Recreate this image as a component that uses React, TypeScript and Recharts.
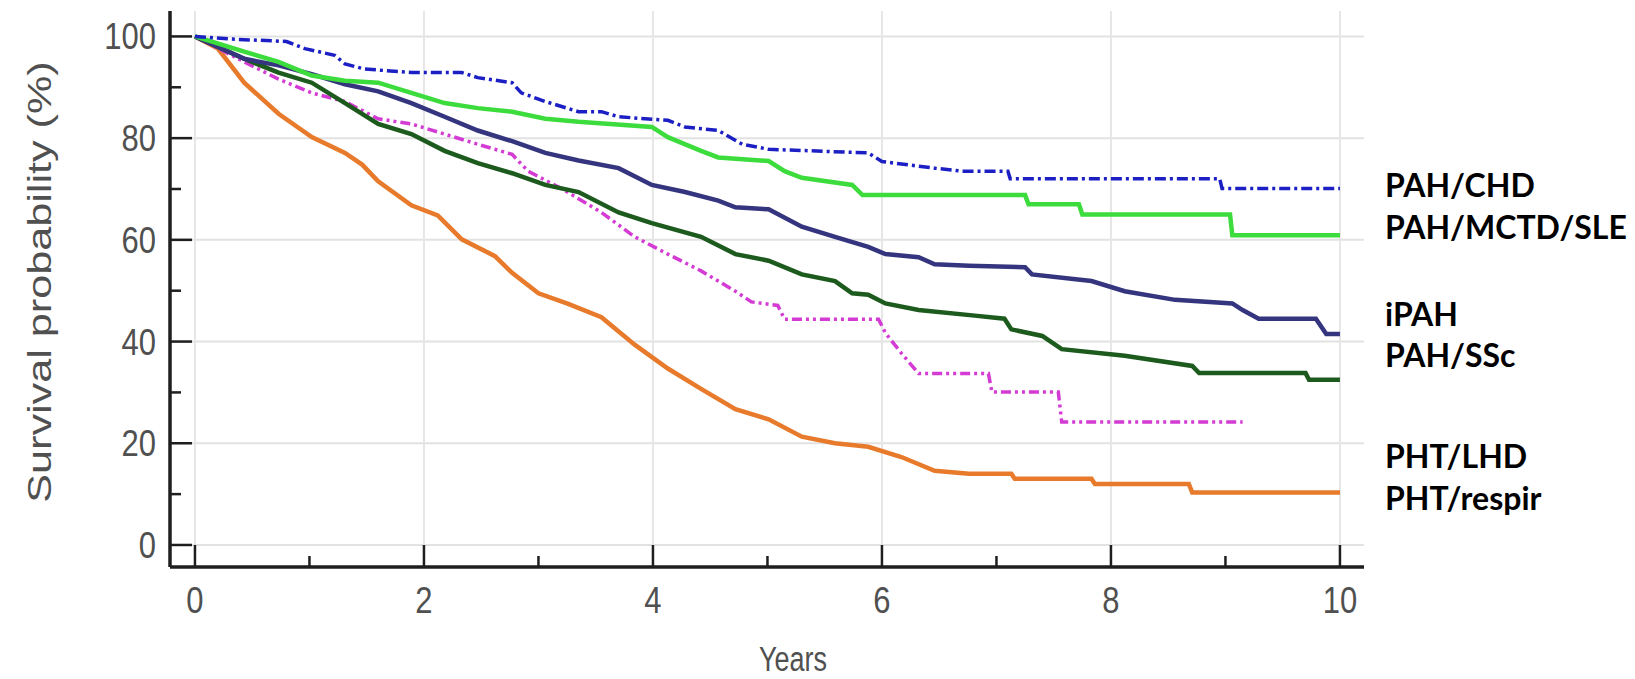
import React from 'react';
import { LineChart, Line, XAxis, YAxis, ReferenceLine } from 'recharts';

// ---- data (years, survival %) ----
const chdYears = [0, 0.3, 0.8, 0.96, 1.22, 1.31, 1.48, 1.89, 2.33, 2.47, 2.77, 2.85, 3.06, 3.35, 3.55, 3.7, 4.13, 4.28, 4.57, 4.78, 5.01, 5.88, 6.0, 6.46, 6.7, 7.1, 7.12, 8.95, 8.97, 10.0];
const chdSurv = [100, 99.5, 99, 97.6, 96.3, 94.6, 93.6, 92.9, 92.9, 91.9, 90.9, 88.9, 87.2, 85.2, 85.2, 84.2, 83.5, 82.2, 81.5, 78.8, 77.8, 77.1, 75.4, 74.1, 73.5, 73.5, 72.0, 72.0, 70.1, 70.1];

const sleYears = [0, 0.43, 0.73, 1.02, 1.31, 1.6, 1.89, 2.18, 2.47, 2.77, 3.06, 3.35, 3.99, 4.13, 4.42, 4.57, 5.01, 5.15, 5.3, 5.74, 5.83, 7.25, 7.28, 7.72, 7.75, 9.04, 9.06, 10.0];
const sleSurv = [100, 97, 95, 92.3, 91.3, 90.9, 88.9, 86.9, 85.9, 85.2, 83.8, 83.2, 82.2, 80.2, 77.5, 76.2, 75.5, 73.5, 72.2, 70.8, 68.8, 68.8, 67.0, 67.0, 65.0, 65.0, 60.9, 60.9];

const ipahYears = [0, 0.43, 0.73, 1.02, 1.31, 1.6, 1.89, 2.18, 2.47, 2.77, 3.06, 3.35, 3.7, 3.99, 4.28, 4.57, 4.72, 5.01, 5.3, 5.59, 5.88, 6.03, 6.32, 6.46, 6.76, 7.25, 7.31, 7.83, 8.12, 8.56, 9.06, 9.15, 9.29, 9.79, 9.88, 10.0];
const ipahSurv = [100, 95.6, 94.3, 92.6, 90.6, 89.2, 86.9, 84.2, 81.5, 79.4, 77.1, 75.6, 74.1, 70.8, 69.4, 67.7, 66.4, 66.0, 62.6, 60.6, 58.6, 57.2, 56.6, 55.2, 54.9, 54.6, 53.2, 51.9, 49.9, 48.2, 47.5, 46.2, 44.5, 44.5, 41.5, 41.5];

const sscYears = [0, 0.43, 0.73, 1.02, 1.31, 1.6, 1.89, 2.18, 2.47, 2.77, 3.06, 3.35, 3.7, 3.99, 4.42, 4.72, 5.01, 5.3, 5.59, 5.74, 5.88, 6.03, 6.32, 6.81, 7.07, 7.13, 7.4, 7.57, 8.12, 8.71, 8.77, 9.7, 9.73, 10.0];
const sscSurv = [100, 95.6, 92.9, 90.9, 86.9, 82.8, 80.8, 77.5, 75.1, 73.1, 70.8, 69.4, 65.4, 63.3, 60.6, 57.2, 55.9, 53.2, 51.9, 49.5, 49.2, 47.5, 46.2, 45.1, 44.5, 42.4, 41.1, 38.5, 37.2, 35.2, 33.8, 33.8, 32.5, 32.5];

const lhdYears = [0, 0.43, 0.73, 1.02, 1.31, 1.6, 1.89, 2.18, 2.47, 2.77, 2.91, 3.2, 3.55, 3.84, 4.13, 4.42, 4.72, 4.86, 5.09, 5.15, 5.97, 6.03, 6.17, 6.32, 6.93, 6.96, 7.54, 7.57, 9.15];
const lhdSurv = [100, 95, 91.6, 88.9, 87.2, 83.8, 82.8, 80.8, 78.8, 76.8, 73.5, 70.1, 65.4, 60.6, 57.2, 53.9, 49.9, 47.8, 47.1, 44.4, 44.4, 41.7, 37.7, 33.7, 33.7, 30.1, 30.1, 24.2, 24.2];

const respYears = [0, 0.2, 0.43, 0.73, 1.02, 1.31, 1.46, 1.6, 1.89, 2.12, 2.33, 2.62, 2.77, 3.0, 3.26, 3.55, 3.84, 4.13, 4.42, 4.72, 5.01, 5.3, 5.59, 5.88, 6.17, 6.46, 6.76, 7.13, 7.16, 7.83, 7.86, 8.68, 8.71, 10.0];
const respSurv = [100, 97.6, 90.9, 84.8, 80.2, 77.1, 74.8, 71.5, 66.8, 64.8, 60.1, 56.8, 53.5, 49.5, 47.4, 44.8, 39.4, 34.7, 30.7, 26.7, 24.7, 21.3, 20.0, 19.3, 17.3, 14.6, 14.0, 14.0, 13.0, 13.0, 12.0, 12.0, 10.3, 10.3];

const xTicks = [0, 1, 2, 3, 4, 5, 6, 7, 8, 9, 10];
const xMajor = [0, 2, 4, 6, 8, 10];
const yTicks = [0, 10, 20, 30, 40, 50, 60, 70, 80, 90, 100];
const yMajor = [0, 20, 40, 60, 80, 100];

const legendLabels = ['PAH/CHD', 'PAH/MCTD/SLE', 'iPAH', 'PAH/SSc', 'PHT/LHD', 'PHT/respir'];
const xAxisTitle = 'Years';
const yAxisTitle = 'Survival probability (%)';

const zip = (ts: number[], ss: number[]) => ts.map((t, i) => ({ t, s: ss[i] }));

const chdData = zip(chdYears, chdSurv);
const sleData = zip(sleYears, sleSurv);
const ipahData = zip(ipahYears, ipahSurv);
const sscData = zip(sscYears, sscSurv);
const lhdData = zip(lhdYears, lhdSurv);
const respData = zip(respYears, respSurv);

const W = 1635;
const H = 679;
const AXIS_COLOR = '#1e1e1e';
const LABEL_COLOR = '#505050';
const FONT = '"Liberation Sans", Arial, sans-serif';

const XTick = (props: any) => {
  const { x, y, payload } = props;
  const v = payload.value;
  const major = xMajor.includes(v);
  return (
    <g>
      <line x1={x} x2={x} y1={y} y2={y - (major ? 22 : 11)} stroke={AXIS_COLOR} strokeWidth={2.5} />
      {major && (
        <text
          transform={`translate(${x},${y + 46}) scale(1,1.2)`}
          textAnchor="middle"
          fontSize={31}
          fill={LABEL_COLOR}
          fontFamily={FONT}
        >
          {v}
        </text>
      )}
    </g>
  );
};

const YTick = (props: any) => {
  const { x, y, payload } = props;
  const v = payload.value;
  const major = yMajor.includes(v);
  return (
    <g>
      <line x1={x} x2={x + (major ? 22 : 11)} y1={y} y2={y} stroke={AXIS_COLOR} strokeWidth={2.5} />
      {major && (
        <text
          transform={`translate(${x - 14},${y + 13}) scale(1,1.2)`}
          textAnchor="end"
          fontSize={31}
          fill={LABEL_COLOR}
          fontFamily={FONT}
        >
          {v}
        </text>
      )}
    </g>
  );
};

const legendY = [197, 239, 326, 367, 468, 510];

export default function App() {
  return (
    <div style={{ position: 'absolute', left: 0, top: 0, width: W, height: H, background: '#fff' }}>
      <LineChart width={W} height={H} margin={{ top: 11, right: 271, bottom: 0, left: 0 }}>
        <XAxis
          dataKey="t"
          type="number"
          domain={[-0.218, 10.21]}
          ticks={xTicks}
          interval={0}
          allowDataOverflow
          height={112}
          tickSize={0}
          tickMargin={0}
          tickLine={false}
          axisLine={{ stroke: AXIS_COLOR, strokeWidth: 3.5 }}
          tick={<XTick />}
        />
        <YAxis
          type="number"
          domain={[-4.33, 105]}
          ticks={yTicks}
          interval={0}
          allowDataOverflow
          width={170}
          tickSize={0}
          tickMargin={0}
          tickLine={false}
          axisLine={{ stroke: AXIS_COLOR, strokeWidth: 3.5 }}
          tick={<YTick />}
        />
        {yMajor.map((v) => (
          <ReferenceLine key={'gy' + v} y={v} stroke="#e2e2e2" strokeWidth={2} />
        ))}
        {xMajor.map((v) => (
          <ReferenceLine key={'gx' + v} x={v} stroke="#e6e6e6" strokeWidth={2} />
        ))}
        <Line data={respData} dataKey="s" type="linear" stroke="#e87a2c" strokeWidth={4.5} dot={false} isAnimationActive={false} />
        <Line data={lhdData} dataKey="s" type="linear" stroke="#d43bd4" strokeWidth={3.5} strokeDasharray="10 4 3 4 3 4" dot={false} isAnimationActive={false} />
        <Line data={sscData} dataKey="s" type="linear" stroke="#1d5a1d" strokeWidth={4.5} dot={false} isAnimationActive={false} />
        <Line data={ipahData} dataKey="s" type="linear" stroke="#34357e" strokeWidth={4.5} dot={false} isAnimationActive={false} />
        <Line data={sleData} dataKey="s" type="linear" stroke="#3ddc3d" strokeWidth={4.5} dot={false} isAnimationActive={false} />
        <Line data={chdData} dataKey="s" type="linear" stroke="#1c1fc4" strokeWidth={3.5} strokeDasharray="11 4 3 4" dot={false} isAnimationActive={false} />
      </LineChart>
      <svg width={W} height={H} style={{ position: 'absolute', left: 0, top: 0, pointerEvents: 'none' }}>
        <text
          x={0}
          y={0}
          transform="translate(39,282) rotate(-90) scale(1.27,1)"
          textAnchor="middle"
          dominantBaseline="central"
          fontSize={34}
          fill={LABEL_COLOR}
          fontFamily={FONT}
        >
          {yAxisTitle}
        </text>
        <text
          transform="translate(793,671) scale(1,1.3)"
          textAnchor="middle"
          fontSize={27}
          fill={LABEL_COLOR}
          fontFamily={FONT}
        >
          {xAxisTitle}
        </text>
        {legendLabels.map((l, i) => (
          <text key={l} x={1385} y={legendY[i]} fontSize={32} fontWeight="bold" fill="#000" fontFamily="Lato, 'Open Sans', sans-serif">
            {l}
          </text>
        ))}
      </svg>
    </div>
  );
}
